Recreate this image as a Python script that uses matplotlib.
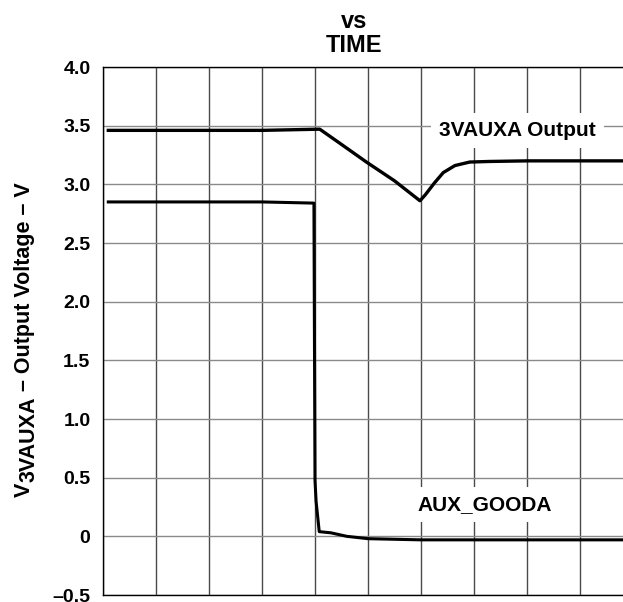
import matplotlib
matplotlib.use("Agg")
import matplotlib.pyplot as plt

plt.rcParams['font.family'] = ['Liberation Sans', 'DejaVu Sans']
plt.rcParams['font.weight'] = 'bold'

# Time axis in grid divisions
vaux_t = [0.1, 1.0, 2.0, 3.0, 4.09, 4.5, 4.97, 5.5, 5.98, 6.08, 6.25, 6.42, 6.64, 6.92, 7.3, 8.0, 9.0, 10.0]
vaux_v = [3.46, 3.46, 3.46, 3.46, 3.47, 3.34, 3.19, 3.03, 2.86, 2.91, 3.01, 3.10, 3.16, 3.19, 3.195, 3.20, 3.20, 3.20]

good_t = [0.1, 1.0, 2.0, 3.0, 3.98, 4.0, 4.02, 4.08, 4.3, 4.6, 5.0, 6.0, 7.0, 8.0, 9.0, 10.0]
good_v = [2.85, 2.85, 2.85, 2.85, 2.84, 0.48, 0.30, 0.04, 0.03, 0.0, -0.02, -0.03, -0.03, -0.03, -0.03, -0.03]

yticks = [-0.5, 0, 0.5, 1.0, 1.5, 2.0, 2.5, 3.0, 3.5, 4.0]
ytick_labels = ['\u20130.5', '0', '0.5', '1.0', '1.5', '2.0', '2.5', '3.0', '3.5', '4.0']

W, H = 623, 602
fig = plt.figure(figsize=(W / 100, H / 100), dpi=100)
ax = fig.add_axes([103 / W, 7 / H, 530 / W, 528 / H])

ax.set_xlim(0, 10)
ax.set_ylim(-0.5, 4.0)
ax.set_xticks(range(0, 11))
ax.set_yticks(yticks)
ax.set_yticklabels(ytick_labels, fontsize=14, fontweight='bold')
ax.tick_params(axis='x', length=0, labelbottom=False)
ax.tick_params(axis='y', length=0, pad=9)
ax.grid(True, axis='x', color='#4a4a4a', linewidth=1.0)
ax.grid(True, axis='y', color='#8a8a8a', linewidth=1.0)
ax.set_axisbelow(True)
for s in ax.spines.values():
    s.set_linewidth(1.0)
    s.set_color('black')

ax.plot(vaux_t, vaux_v, color='black', linewidth=2.4, zorder=3)
ax.plot(good_t, good_v, color='black', linewidth=2.2, zorder=3)

ax.text(7.82, 3.46, '3VAUXA Output', fontsize=15, fontweight='bold', ha='center', va='center',
        zorder=4, bbox=dict(facecolor='white', edgecolor='none', pad=6))
ax.text(7.2, 0.27, 'AUX_GOODA', fontsize=15, fontweight='bold', ha='center', va='center',
        zorder=4, bbox=dict(facecolor='white', edgecolor='none', pad=6))

# y label: "V" followed by a lowered full-size subscript, then the rest
fs_lab = 15.5
base_x = 30
y0 = 497
renderer = fig.canvas.get_renderer()
kw = dict(fontsize=fs_lab, fontweight='bold', rotation=90, rotation_mode='anchor',
          ha='left', va='baseline', transform=None)
t1 = fig.text(base_x, H - y0, 'V', **kw)
h1 = t1.get_window_extent(renderer).height
t2 = fig.text(base_x + 5, (H - y0) + h1 + 1, '3VAUXA', **kw)
h2 = t2.get_window_extent(renderer).height
t3 = fig.text(base_x, (H - y0) + h1 + h2 + 6, '\u2013 Output Voltage \u2013 V', **kw)

fig.text(352 / W, 1 - (-9) / H, 'OUTPUT VOLTAGE', fontsize=17, fontweight='bold', ha='center', va='center')
fig.text(354 / W, 1 - 21 / H, 'vs', fontsize=17, fontweight='bold', ha='center', va='center')
fig.text(354 / W, 1 - 45 / H, 'TIME', fontsize=17, fontweight='bold', ha='center', va='center')

fig.savefig('out.png', dpi=100)
